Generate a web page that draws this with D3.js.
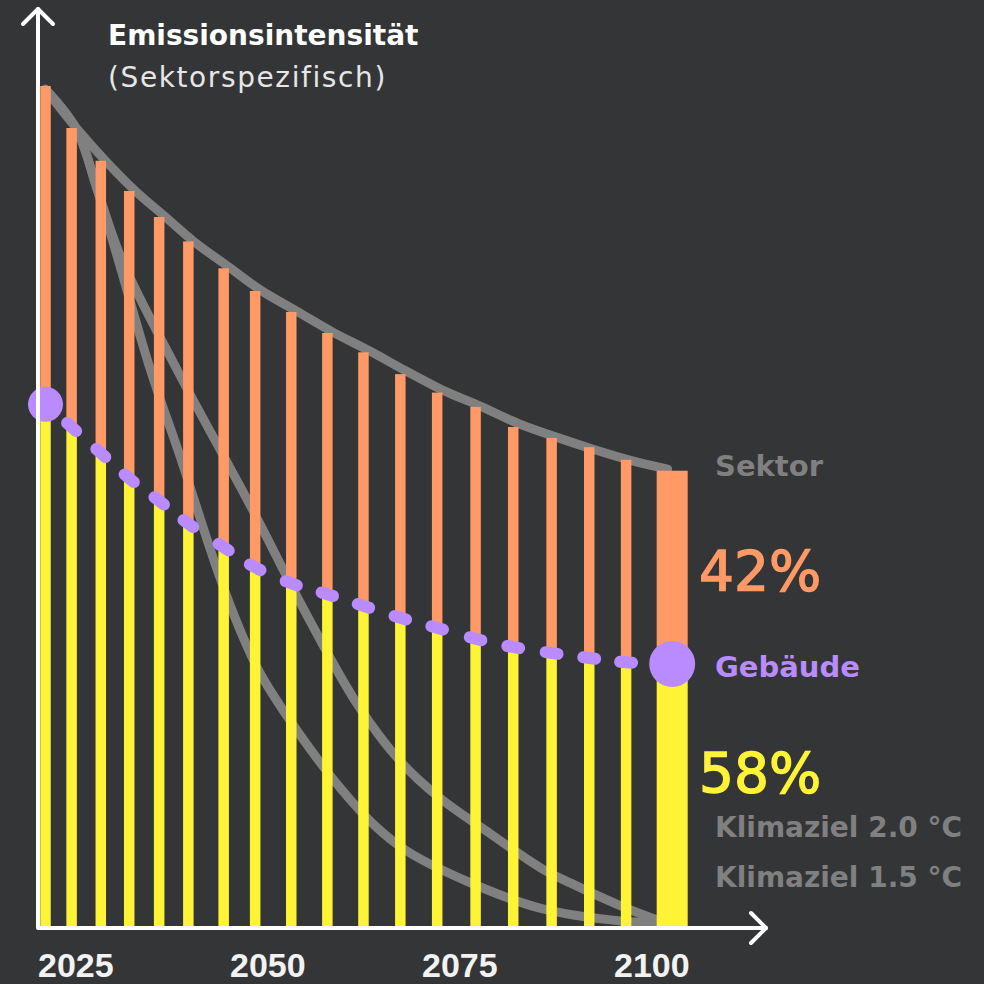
<!DOCTYPE html>
<html>
<head>
<meta charset="utf-8">
<script src="https://cdn.jsdelivr.net/npm/d3@7"></script>
<style>
    html, body { margin: 0; padding: 0; background: #343537; }
    #chart { width: 984px; height: 984px; }
</style>
</head>
<body>
<div id="chart"></div>
<script>
// years of the thin bars (spacing is not even)
const barJahre = [2025, 2028.4, 2032.2, 2035.9, 2039.8, 2043.6, 2048.2, 2052.3, 2057.0,
    2061.7, 2066.4, 2071.2, 2076.0, 2081.0, 2085.9, 2090.9, 2095.8, 2100.6];
// sector emission intensity (index, first year = 100)
const sektorWerte = [100, 95.0, 91.1, 87.5, 84.4, 81.5, 78.3, 75.6, 73.1,
    70.6, 68.3, 65.7, 63.5, 61.8, 59.4, 58.1, 57.0, 55.5];
// building emission intensity
const gebaeudeWerte = [62.1, 59.4, 56.3, 53.3, 50.6, 47.9, 45.1, 42.7, 40.8,
    39.5, 38.1, 36.7, 35.5, 34.2, 33.2, 32.5, 31.9, 31.4];

// summary bar at the end
const zielJahr = 2106.6;
const zielSektor = 54.2;
const zielGebaeude = 31.2;
const anteile = ["42%", "58%"];

// grey reference curves [year, value]
const sektorKurve = [[2025, 99.6], [2029.0, 95.0], [2032.8, 91.1], [2036.7, 87.5], [2040.5, 84.5],
    [2044.3, 81.5], [2048.8, 78.5], [2053.0, 75.7], [2057.7, 73.2], [2062.4, 70.7], [2067.1, 68.5],
    [2071.9, 66.1], [2076.7, 63.8], [2081.6, 61.9], [2086.6, 59.8], [2091.5, 58.2], [2096.5, 56.7],
    [2101.3, 55.4], [2106.0, 54.4]];
const klima20Kurve = [[2025, 99.6], [2029.0, 94.9], [2031.8, 87.5], [2035.0, 79.2], [2042.2, 66.1],
    [2051.7, 50.0], [2059.1, 36.9], [2065.6, 26.4], [2071.2, 19.6], [2076.4, 15.2], [2082.9, 11.0],
    [2089.5, 6.9], [2093.4, 5.1], [2099.9, 2.4], [2104.4, 0.8]];
const klima15Kurve = [[2025, 99.6], [2029.0, 94.9], [2031.8, 87.5], [2034.5, 79.2], [2038.7, 66.1],
    [2042.6, 55.7], [2047.4, 42.3], [2050.4, 35.1], [2053.0, 30.0], [2057.8, 23.2], [2063.4, 16.4],
    [2067.7, 12.1], [2072.1, 8.9], [2080.7, 5.0], [2089.5, 2.1], [2099.9, 0.6], [2104.4, 0.4]];

const tickJahre = [2025, 2050, 2075, 2100];

const farben = {
    bg: "#343537",
    orange: "#ff9966",
    gelb: "#fff336",
    lila: "#b98bff",
    grau: "#808080",
    weiss: "#ffffff"
};

const width = 984, height = 984;

const svg = d3.select("#chart")
    .append("svg")
    .attr("width", width)
    .attr("height", height)
    .style("background", farben.bg);

const x = d3.scaleLinear().domain([2025, 2100]).range([45.5, 621.5]);
const y = d3.scaleLinear().domain([0, 100]).range([926, 86]);

// grey curves behind the bars
const kurve = d3.line()
    .x(d => x(d[0]))
    .y(d => y(d[1]))
    .curve(d3.curveCatmullRom.alpha(0.5));

svg.append("g")
    .selectAll("path")
    .data([klima15Kurve, klima20Kurve, sektorKurve])
    .enter()
    .append("path")
    .attr("d", kurve)
    .attr("fill", "none")
    .attr("stroke", farben.grau)
    .attr("stroke-width", 9)
    .attr("stroke-linecap", "round")
    .attr("stroke-linejoin", "round");

// bars
const bars = barJahre.map((j, i) => ({jahr: j, sektor: sektorWerte[i], gebaeude: gebaeudeWerte[i], w: 10.5}));
bars.push({jahr: zielJahr, sektor: zielSektor, gebaeude: zielGebaeude, w: 31});

const barG = svg.append("g");
barG.selectAll(".top")
    .data(bars)
    .enter()
    .append("rect")
    .attr("class", "top")
    .attr("x", d => x(d.jahr) - d.w / 2)
    .attr("width", d => d.w)
    .attr("y", d => y(d.sektor))
    .attr("height", d => y(d.gebaeude) - y(d.sektor))
    .attr("fill", farben.orange);

barG.selectAll(".bottom")
    .data(bars)
    .enter()
    .append("rect")
    .attr("class", "bottom")
    .attr("x", d => x(d.jahr) - d.w / 2)
    .attr("width", d => d.w)
    .attr("y", d => y(d.gebaeude))
    .attr("height", d => y(0) - y(d.gebaeude))
    .attr("fill", farben.gelb);

// building line: short dashes at every thin bar, big dots at both ends
const pts = bars.map(d => [x(d.jahr), y(d.gebaeude)]);
const dashes = [];
for (let i = 1; i < pts.length - 1; i++) {
    let dx = pts[i + 1][0] - pts[i - 1][0];
    let dy = pts[i + 1][1] - pts[i - 1][1];
    let len = Math.sqrt(dx * dx + dy * dy);
    let h = 6;
    dashes.push([pts[i][0] - dx / len * h, pts[i][1] - dy / len * h, pts[i][0] + dx / len * h, pts[i][1] + dy / len * h]);
}

svg.append("g")
    .selectAll("line")
    .data(dashes)
    .enter()
    .append("line")
    .attr("x1", d => d[0])
    .attr("y1", d => d[1])
    .attr("x2", d => d[2])
    .attr("y2", d => d[3])
    .attr("stroke", farben.lila)
    .attr("stroke-width", 12)
    .attr("stroke-linecap", "round");

svg.append("circle")
    .attr("cx", x(barJahre[0]))
    .attr("cy", y(gebaeudeWerte[0]))
    .attr("r", 17.5)
    .attr("fill", farben.lila);

svg.append("circle")
    .attr("cx", x(zielJahr))
    .attr("cy", y(zielGebaeude))
    .attr("r", 23)
    .attr("fill", farben.lila);

// axes with arrow heads
const achse = svg.append("g")
    .attr("fill", "none")
    .attr("stroke", farben.weiss)
    .attr("stroke-width", 4)
    .attr("stroke-linecap", "round")
    .attr("stroke-linejoin", "round");

achse.append("path").attr("d", "M38,9 L38,928 L766,928");
achse.append("path").attr("d", "M23,24 L38,9 L53,24");
achse.append("path").attr("d", "M751,913 L766,928 L751,943");

// year labels
const xAxis = d3.axisBottom(x)
    .tickValues(tickJahre)
    .tickSize(0)
    .tickFormat(d3.format("d"));

const xg = svg.append("g")
    .attr("transform", "translate(0,948)")
    .call(xAxis);
xg.select(".domain").remove();
xg.selectAll("text")
    .attr("text-anchor", "start")
    .attr("dx", -8)
    .attr("dy", 0)
    .attr("y", 29)
    .attr("fill", "#f2f2f2")
    .style("font-family", "'Liberation Sans', Arial, sans-serif")
    .style("font-weight", "bold")
    .style("font-size", "34px");

// title
svg.append("text")
    .attr("x", 108)
    .attr("y", 45)
    .attr("fill", farben.weiss)
    .style("font-family", "'DejaVu Sans', sans-serif")
    .style("font-weight", "bold")
    .style("font-size", "28px")
    .text("Emissionsintensität");

svg.append("text")
    .attr("x", 108)
    .attr("y", 87)
    .attr("fill", "#e6e6e6")
    .style("font-family", "'DejaVu Sans', sans-serif")
    .style("font-size", "28px")
    .style("letter-spacing", "1.6px")
    .text("(Sektorspezifisch)");

// right side labels
const labels = [
    {t: "Sektor", x: 715, y: 476, c: farben.grau, s: 29, w: "bold", sw: 0},
    {t: anteile[0], x: 699, y: 590, c: farben.orange, s: 55, w: "normal", sw: 1.4},
    {t: "Gebäude", x: 715, y: 677, c: farben.lila, s: 29, w: "bold", sw: 0},
    {t: anteile[1], x: 699, y: 792, c: farben.gelb, s: 55, w: "normal", sw: 1.4},
    {t: "Klimaziel 2.0 °C", x: 715, y: 837, c: farben.grau, s: 28, w: "bold", sw: 0},
    {t: "Klimaziel 1.5 °C", x: 715, y: 887, c: farben.grau, s: 28, w: "bold", sw: 0}
];

svg.append("g")
    .selectAll("text")
    .data(labels)
    .enter()
    .append("text")
    .attr("x", d => d.x)
    .attr("y", d => d.y)
    .attr("fill", d => d.c)
    .attr("stroke", d => d.c)
    .attr("stroke-width", d => d.sw)
    .style("font-family", "'DejaVu Sans', sans-serif")
    .style("font-weight", d => d.w)
    .style("font-size", d => d.s + "px")
    .text(d => d.t);
</script>
</body>
</html>
